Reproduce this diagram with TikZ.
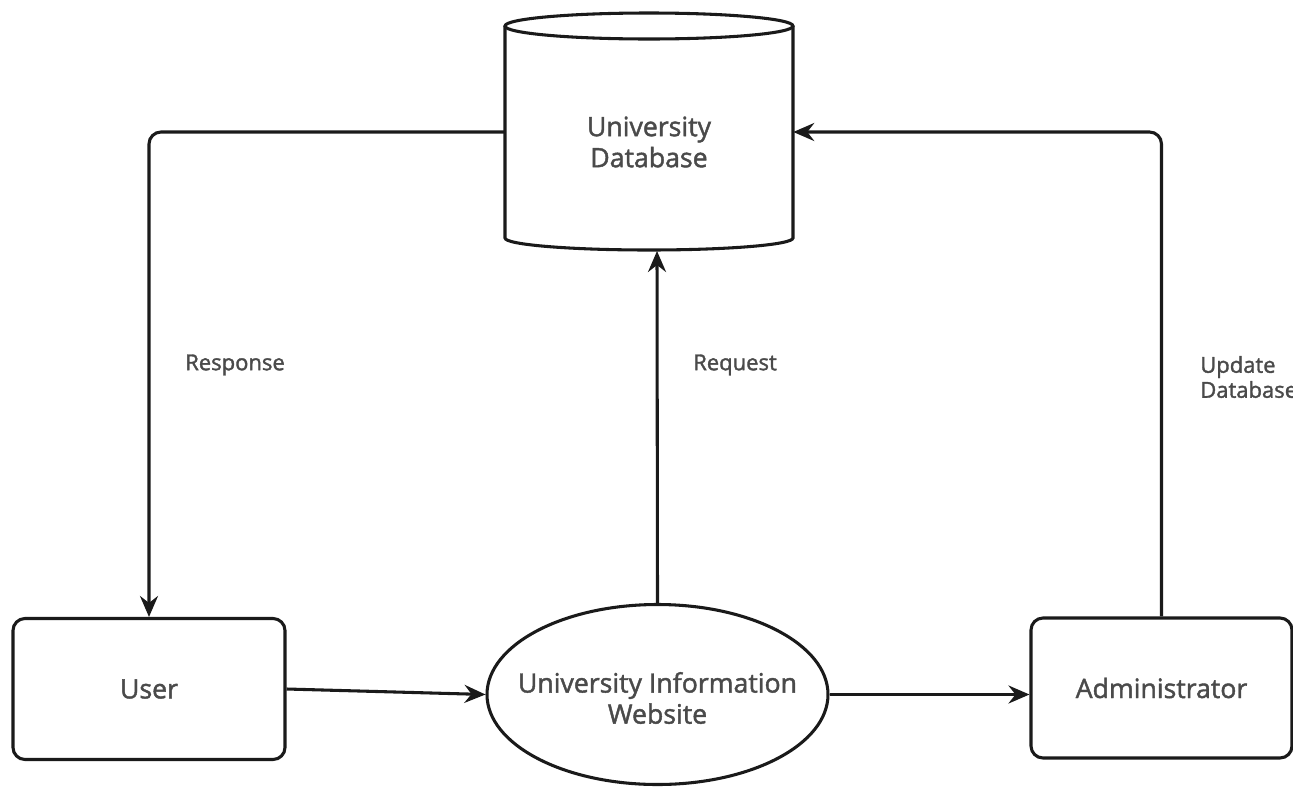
\documentclass[tikz,border=0pt]{standalone}
\usepackage{fontspec}
\setmainfont{Open Sans}[FakeBold=1.6,AutoFakeBold=1.6]
\usetikzlibrary{arrows.meta,shapes.geometric}
\definecolor{txt}{HTML}{4A4A4A}
\definecolor{ln}{HTML}{1A1A1A}
\begin{document}
\begin{tikzpicture}[x=0.75pt,y=0.75pt,
  arr/.style={draw=ln,line width=2.3pt,-{Stealth[length=15.75pt,width=13.5pt,inset=5.25pt]}},
  boxst/.style={draw=ln,line width=2.3pt,rounded corners=9pt,inner sep=0pt},
  maintext/.style={text=txt,font=\fontsize{20}{23.3}\selectfont\bfseries,align=center},
  lbl/.style={text=txt,font=\fontsize{16.5}{18.75}\selectfont\bfseries,align=left,anchor=west,inner sep=0pt}]
\useasboundingbox (0,0) rectangle (1293,-786);
% database cylinder
\node[minimum width=216pt,minimum height=159pt,inner sep=0pt] (db) at (649,-132) {};
\draw[ln,line width=2.3pt] (505,-26) -- (505,-238) arc[start angle=180,end angle=360,x radius=144,y radius=12] -- (793,-26);
\draw[ln,line width=2.3pt,fill=white] (649,-26) ellipse[x radius=144,y radius=13];
\node[maintext] (dbtext) at (649,-142) {University\\Database};
\coordinate (dbbot) at (657,-251);
% user
\node[boxst,maintext,minimum width=204pt,minimum height=105.75pt] (user) at (149,-689) {User};
% website
\node[draw=ln,line width=2.3pt,ellipse,minimum width=255.75pt,minimum height=135pt,inner sep=0pt] (web) at (657.5,-694.5) {};
\node[maintext] (webtext) at (657.5,-698) {University Information\\Website};
% admin
\node[boxst,maintext,minimum width=195.75pt,minimum height=105pt] (admin) at (1161.5,-688) {Administrator};
% connectors
\draw[arr,rounded corners=9pt] (db.west) -| (user.north);
\draw[arr] (web.north) -- (dbbot);
\draw[arr,rounded corners=9pt] (admin.north) |- (db.east);
\draw[arr] (user.east) -- (web.west);
\draw[arr] (web.east) -- (web.east -| admin.west);
% labels
\node[lbl] (lresp) at (185,-365) {Response};
\node[lbl] (lreq) at (693,-365) {Request};
\node[lbl] (lupd) at (1200,-377) {Update\\Database};
\end{tikzpicture}
\end{document}
